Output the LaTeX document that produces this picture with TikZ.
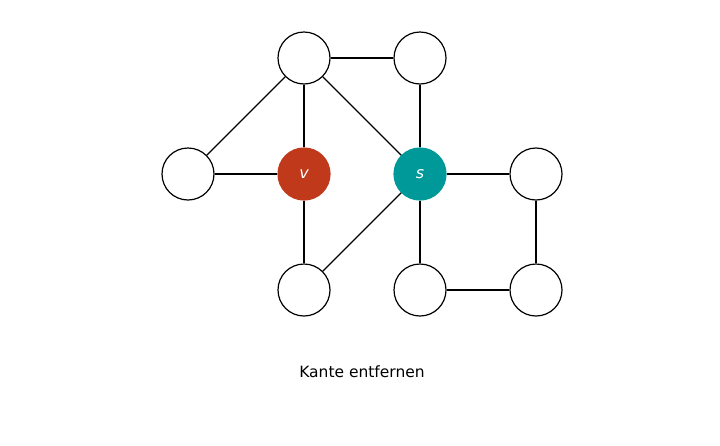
\documentclass[tikz,border=0pt]{standalone}
\usepackage{fontspec}
\setmainfont{DejaVu Sans}
\definecolor{vred}{HTML}{C0391B}
\definecolor{steal}{HTML}{00999A}
\begin{document}
\begin{tikzpicture}[x=1pt,y=-1pt,
  vx/.style={circle,draw=black,line width=1.2pt,minimum size=52pt,inner sep=0pt,fill=white},
  thickE/.style={line width=2pt},
  thinE/.style={line width=1.1pt}]
\useasboundingbox (0,0) rectangle (720,445);
\node[vx] (a) at (304,58) {};
\node[vx] (b) at (420,58) {};
\node[vx] (c) at (188,174) {};
\node[vx,fill=vred,draw=vred,text=white] (v) at (304,174) {\fontsize{16}{18}\selectfont\itshape v};
\node[vx,fill=steal,draw=steal,text=white] (s) at (420,174) {\fontsize{16}{18}\selectfont\itshape s};
\node[vx] (d) at (536,174) {};
\node[vx] (e) at (304,290) {};
\node[vx] (f) at (420,290) {};
\node[vx] (g) at (536,290) {};
\draw[thickE] (a)--(b);
\draw[thinE] (a)--(c);
\draw[thickE] (a)--(v);
\draw[thinE] (a)--(s);
\draw[thickE] (b)--(s);
\draw[thickE] (c)--(v);
\draw[thickE] (v)--(e);
\draw[thinE] (e)--(s);
\draw[thickE] (s)--(d);
\draw[thickE] (s)--(f);
\draw[thickE] (d)--(g);
\draw[thickE] (f)--(g);
\node (t) at (362,372) {\fontsize{15.5}{18}\selectfont Kante entfernen};
\end{tikzpicture}
\end{document}
